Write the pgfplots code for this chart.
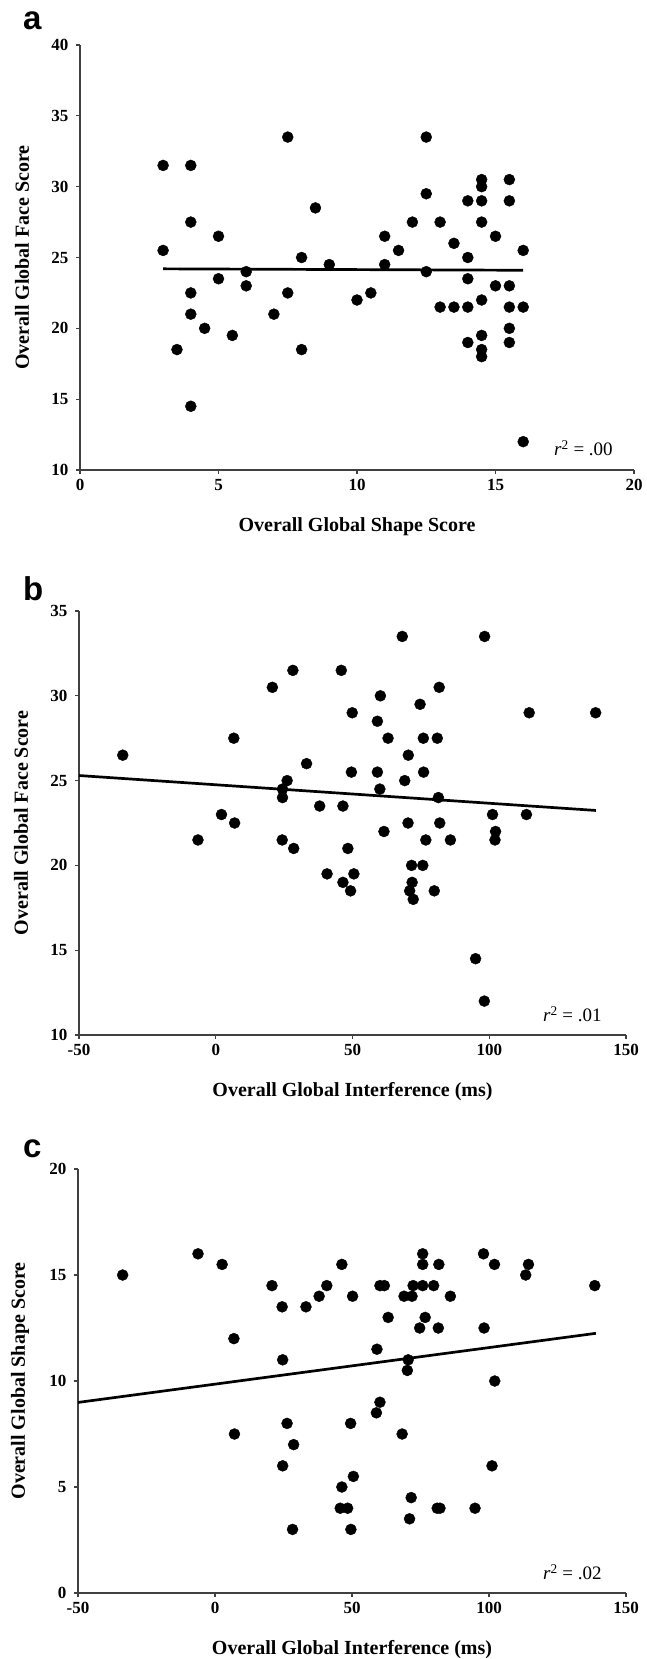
\documentclass[border=0pt]{standalone}
\usepackage{fontspec}
\setmainfont{Liberation Serif}
\newfontfamily\letterfont{Liberation Sans}
\usepackage{pgfplots}
\pgfplotsset{compat=1.18}

\pgfplotstableread{
x y
3 31.5
3 25.5
3.5 18.5
4 31.5
4 27.5
4 22.5
4 21
4 14.5
4.5 20
5 26.5
5 23.5
5.5 19.5
6 24
6 23
7 21
7.5 33.5
7.5 22.5
8 25
8 18.5
8.5 28.5
9 24.5
10 22
10.5 22.5
11 26.5
11 24.5
11.5 25.5
12 27.5
12.5 33.5
12.5 29.5
12.5 24
13 27.5
13 21.5
13.5 26
13.5 21.5
14 29
14 25
14 23.5
14 21.5
14 19
14.5 30.5
14.5 30
14.5 29
14.5 27.5
14.5 22
14.5 19.5
14.5 18.5
14.5 18
15 26.5
15 23
15.5 30.5
15.5 29
15.5 23
15.5 21.5
15.5 20
15.5 19
16 25.5
16 21.5
16 12
}\dataA

\pgfplotstableread{
x y
-34 26.5
-6.5 21.5
2.1 23
6.6 27.5
6.9 22.5
20.7 30.5
28.2 31.5
24.4 24.5
26.1 25
24.4 24
24.3 21.5
28.5 21
33.2 26
38 23.5
40.7 19.5
45.9 31.5
46.5 23.5
46.5 19
48.3 21
49.9 29
49.6 25.5
49.3 18.5
50.5 19.5
59.1 28.5
59.1 25.5
60.2 30
60 24.5
63 27.5
61.5 22
68.2 33.5
69.1 25
70.4 26.5
70.3 22.5
70.9 18.5
71.6 20
71.8 19
72.2 18
74.7 29.5
75.9 27.5
76 25.5
76.8 21.5
75.7 20
81 27.5
81.7 30.5
81.4 24
81.9 22.5
79.9 18.5
85.8 21.5
95 14.5
98.3 33.5
98.2 12
101.2 23
102.3 22
102.1 21.5
113.6 23
114.6 29
138.9 29
}\dataB

\pgfplotstableread{
x y
-33.7 15
-6.2 16
2.6 15.5
6.9 12
7.1 7.5
20.8 14.5
24.5 13.5
24.7 11
24.7 6
26.3 8
28.7 7
28.3 3
33.2 13.5
38 14
40.8 14.5
46.3 15.5
46.3 5
45.7 4
48.4 4
49.5 8
49.6 3
50.2 14
50.5 5.5
59.1 11.5
58.9 8.5
60.2 14.5
60.2 9
61.8 14.5
63.2 13
68.3 7.5
69 14
70.5 11
70.2 10.5
71.9 14
72.3 14.5
71 3.5
71.6 4.5
74.7 12.5
75.8 16
75.8 15.5
75.8 14.5
76.7 13
79.8 14.5
81.5 12.5
81.7 15.5
81.1 4
82.1 4
85.9 14
94.9 4
98 16
98.2 12.5
102 15.5
102.1 10
101.1 6
113.4 15
114.4 15.5
138.6 14.5
}\dataC

\pgfplotsset{
  panel/.style={
    scale only axis,
    axis x line=bottom, axis y line=left,
    axis line style={black!75, line width=1.1pt, -},
    tick style={black!75, line width=1.1pt},
    tick align=outside, major tick length=4pt,
    ticklabel style={font=\fontsize{17}{17}\selectfont\bfseries},
    yticklabel style={xshift=-4pt},
    xticklabel style={yshift=-2pt},
    every axis x label/.style={at={(axis description cs:0.5,0)}, yshift=-57pt, anchor=center, font=\fontsize{20}{20}\selectfont\bfseries},
    every axis y label/.style={at={(axis description cs:0,0.5)}, xshift=-58pt, rotate=90, anchor=center, font=\fontsize{20}{20}\selectfont\bfseries},
    clip=false,
  },
  dots/.style={only marks, mark=*, mark size=5.5pt, mark options={fill=black, draw=black}},
  trend/.style={black, line width=2.7pt, no marks},
}

\begin{document}
\begin{tikzpicture}
\useasboundingbox (0,0) rectangle (646pt,-1659pt);
\tikzset{letter/.style={font=\letterfont\bfseries\fontsize{33}{33}\selectfont, anchor=base west, inner sep=0pt}}
\node[letter] at (23pt,-30pt) {a};
\node[letter] at (23pt,-600pt) {b};
\node[letter] at (23pt,-1157pt) {c};

% Panel a
\begin{axis}[panel, at={(80pt,-470pt)}, anchor=south west, width=554pt, height=425pt,
  xmin=0, xmax=20, ymin=10, ymax=40,
  xtick={0,5,10,15,20}, xticklabels={0,5,10,15,20},
  ytick={10,15,20,25,30,35,40}, yticklabels={10,15,20,25,30,35,40},
  xlabel={Overall Global Shape Score}, ylabel={Overall Global Face Score}]
\addplot[dots] table[x=x,y=y] {\dataA};
\addplot[trend] coordinates {(3,24.2) (16,24.1)};
\node[anchor=base east, font=\fontsize{19}{19}\selectfont] at (rel axis cs:0.968,0.033) {\textit{r}\textsuperscript{2} = .00};
\end{axis}

% Panel b
\begin{axis}[panel, at={(79pt,-1035pt)}, anchor=south west, width=547pt, height=424pt,
  xmin=-50, xmax=150, ymin=10, ymax=35,
  xtick={-50,0,50,100,150}, xticklabels={-50,0,50,100,150},
  ytick={10,15,20,25,30,35}, yticklabels={10,15,20,25,30,35},
  xlabel={Overall Global Interference (ms)}, ylabel={Overall Global Face Score}]
\addplot[dots] table[x=x,y=y] {\dataB};
\addplot[trend] coordinates {(-50,25.3) (139,23.24)};
\node[anchor=base east, font=\fontsize{19}{19}\selectfont] at (rel axis cs:0.962,0.032) {\textit{r}\textsuperscript{2} = .01};
\end{axis}

% Panel c
\begin{axis}[panel, at={(78pt,-1593pt)}, anchor=south west, width=548pt, height=424pt,
  xmin=-50, xmax=150, ymin=0, ymax=20,
  xtick={-50,0,50,100,150}, xticklabels={-50,0,50,100,150},
  ytick={0,5,10,15,20}, yticklabels={0,5,10,15,20},
  xlabel={Overall Global Interference (ms)}, ylabel={Overall Global Shape Score}]
\addplot[dots] table[x=x,y=y] {\dataC};
\addplot[trend] coordinates {(-50,8.99) (139,12.25)};
\node[anchor=base east, font=\fontsize{19}{19}\selectfont] at (rel axis cs:0.962,0.031) {\textit{r}\textsuperscript{2} = .02};
\end{axis}
\end{tikzpicture}
\end{document}
